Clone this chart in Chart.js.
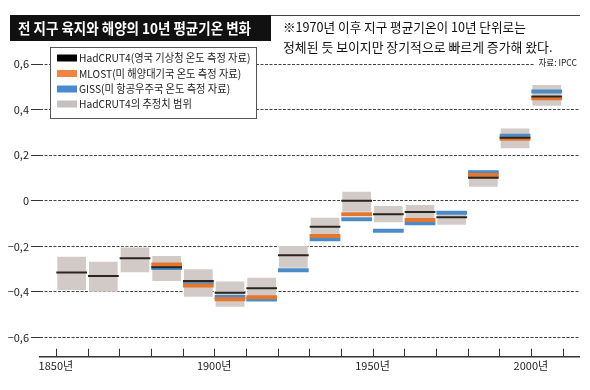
<!doctype html>
<html>
<head>
<meta charset="utf-8">
<title>전 지구 육지와 해양의 10년 평균기온 변화</title>
<script src="https://cdn.jsdelivr.net/npm/chart.js@4.4.1/dist/chart.umd.min.js"></script>
<style>
  html, body { margin: 0; padding: 0; background: #fff; }
</style>
</head>
<body>
<canvas id="canvas" width="590" height="390"></canvas>
<script>
// decade start years (each box spans the decade)
const decades = [1850, 1860, 1870, 1880, 1890, 1900, 1910, 1920, 1930, 1940, 1950, 1960, 1970, 1980, 1990, 2000];

// HadCRUT4 uncertainty range (low / high)
const rangeLow  = [-0.396, -0.403, -0.318, -0.356, -0.425, -0.469, -0.442, -0.298, -0.179, -0.052, -0.099, -0.110, -0.110, 0.057, 0.226, 0.413];
const rangeHigh = [-0.241, -0.263, -0.201, -0.238, -0.296, -0.350, -0.333, -0.194, -0.070, 0.044, -0.018, -0.014, -0.043, 0.137, 0.321, 0.512];

// decadal means
const hadcrut = [-0.315, -0.330, -0.252, -0.292, -0.352, -0.403, -0.384, -0.239, -0.114, 0.000, -0.059, -0.049, -0.072, 0.101, 0.277, 0.457];
const mlost   = [null, null, null, -0.280, -0.372, -0.432, -0.423, null, -0.154, -0.059, null, -0.084, null, 0.113, 0.272, 0.450];
const giss    = [null, null, null, -0.295, -0.358, -0.422, -0.433, -0.305, -0.169, -0.081, -0.131, -0.099, -0.053, 0.125, 0.285, 0.479];

const yTicks = [-0.6, -0.4, -0.2, 0, 0.2, 0.4, 0.6];
const xTicks = [1850, 1860, 1870, 1880, 1890, 1900, 1910, 1920, 1930, 1940, 1950, 1960, 1970, 1980, 1990, 2000, 2010];

const seriesNames = ['HadCRUT4(영국 기상청 온도 측정 자료)', 'MLOST(미 해양대기국 온도 측정 자료)', 'GISS(미 항공우주국 온도 측정 자료)', 'HadCRUT4의 추정치 범위'];
const titleText = '전 지구 육지와 해양의 10년 평균기온 변화';
const noteLines = ['※1970년 이후 지구 평균기온이 10년 단위로는', '정체된 듯 보이지만 장기적으로 빠르게 증가해 왔다.'];
const sourceText = '자료: IPCC';

const FONT = "'Noto Sans CJK KR', 'Noto Sans', sans-serif";

// horizontal segment per decade, broken between decades
function segments(vals) {
	const out = [];
	decades.forEach((d, i) => {
		if (vals[i] === null) return;
		out.push({x: d + 0.15, y: vals[i]}, {x: d + 9.85, y: vals[i]}, {x: d + 10, y: null});
	});
	return out;
}

function drawText(ctx, str, x, y, font, color, sx, align) {
	ctx.save();
	ctx.font = font;
	ctx.fillStyle = color;
	ctx.textBaseline = 'middle';
	ctx.textAlign = align || 'left';
	ctx.translate(x, y);
	ctx.scale(sx, 1);
	ctx.fillText(str, 0, 0);
	ctx.restore();
}

const decor = {
	id: 'decor',
	afterDraw(chart) {
		const ctx = chart.ctx;
		const xs = chart.scales.x;
		ctx.save();

		// tick marks pointing up from the axis
		ctx.strokeStyle = '#333';
		ctx.lineWidth = 1;
		xTicks.forEach(t => {
			const px = Math.round(xs.getPixelForValue(t)) + 0.5;
			ctx.beginPath();
			ctx.moveTo(px, xs.top);
			ctx.lineTo(px, xs.top - 8);
			ctx.stroke();
		});

		// title bar
		ctx.fillStyle = '#111';
		ctx.fillRect(10, 15, 261, 26);
		ctx.strokeStyle = '#444';
		ctx.beginPath();
		ctx.moveTo(271, 15.5);
		ctx.lineTo(580, 15.5);
		ctx.stroke();
		drawText(ctx, titleText, 18, 28.5, 'bold 15px ' + FONT, '#fff', 0.9);

		// note
		drawText(ctx, noteLines[0], 283, 27, '13px ' + FONT, '#111', 0.97);
		drawText(ctx, noteLines[1], 283, 47, '13px ' + FONT, '#111', 0.99);

		// source
		ctx.fillStyle = '#fff';
		ctx.fillRect(534, 56, 46, 14);
		drawText(ctx, sourceText, 577, 63, '9px ' + FONT, '#222', 0.95, 'right');

		// legend
		ctx.fillStyle = '#fff';
		ctx.fillRect(50, 47, 207, 72);
		ctx.strokeStyle = '#555';
		ctx.strokeRect(50.5, 47.5, 206, 71);
		const sw = ['#000', '#f08444', '#4a8bd0', '#c4c0bf'];
		const rows = [58, 73.5, 89, 104];
		seriesNames.forEach((s, i) => {
			ctx.fillStyle = sw[i];
			ctx.fillRect(57, rows[i] - 3.5, 20, 7);
			drawText(ctx, s, 79, rows[i], '11px ' + FONT, '#222', 0.93);
		});
		ctx.restore();
	}
};

const config = {
	type: 'bar',
	data: {
		datasets: [{
			type: 'line',
			label: seriesNames[0],
			data: segments(hadcrut),
			borderColor: '#2b2522',
			borderWidth: 2,
			pointRadius: 0,
			spanGaps: false
		}, {
			type: 'line',
			label: seriesNames[1],
			data: segments(mlost),
			borderColor: '#e6762c',
			borderWidth: 4,
			pointRadius: 0,
			spanGaps: false
		}, {
			type: 'line',
			label: seriesNames[2],
			data: segments(giss),
			borderColor: '#4b8cc8',
			borderWidth: 4,
			pointRadius: 0,
			spanGaps: false
		}, {
			type: 'bar',
			label: seriesNames[3],
			data: decades.map((d, i) => ({x: d + 5, y: [rangeLow[i], rangeHigh[i]]})),
			backgroundColor: '#d2cac7',
			borderColor: 'rgba(255,255,255,0.55)',
			borderWidth: 1,
			borderSkipped: false,
			categoryPercentage: 0.97,
			barPercentage: 1
		}]
	},
	options: {
		responsive: false,
		animation: false,
		layout: {padding: {top: 55, right: 11, left: 0, bottom: 0}},
		plugins: {
			legend: {display: false},
			tooltip: {enabled: false}
		},
		scales: {
			x: {
				type: 'linear',
				min: 1845,
				max: 2015.2,
				offset: false,
				afterBuildTicks(scale) {
					scale.ticks = xTicks.map(v => ({value: v}));
				},
				afterFit(scale) {
					scale.height = 33.3;
				},
				grid: {display: false, drawTicks: false},
				border: {display: true, color: '#333', width: 1.5},
				ticks: {
					autoSkip: false,
					maxRotation: 0,
					padding: 3,
					color: '#222',
					font: {family: FONT, size: 11},
					callback: v => (v % 50 === 0 ? v + '년' : '')
				}
			},
			y: {
				min: -0.684,
				max: 0.6395,
				z: 1,
				afterBuildTicks(scale) {
					scale.ticks = yTicks.map(v => ({value: v}));
				},
				afterFit(scale) {
					scale.width = 40;
				},
				grid: {
					color: '#444',
					lineWidth: 1,
					drawTicks: true,
					tickLength: 9,
					tickColor: '#333',
					tickBorderDash: []
				},
				border: {display: false, dash: [3, 1.5]},
				ticks: {
					padding: 2,
					color: '#222',
					font: {family: FONT, size: 11},
					callback: v => {
						if (Math.abs(v) < 1e-9) return '0';
						return (v < 0 ? '−' : '') + Math.abs(v).toFixed(1).replace('.', ',');
					}
				}
			}
		}
	},
	plugins: [decor]
};

window.onload = function() {
	const ctx = document.getElementById('canvas').getContext('2d');
	window.myChart = new Chart(ctx, config);
};
</script>
</body>
</html>
